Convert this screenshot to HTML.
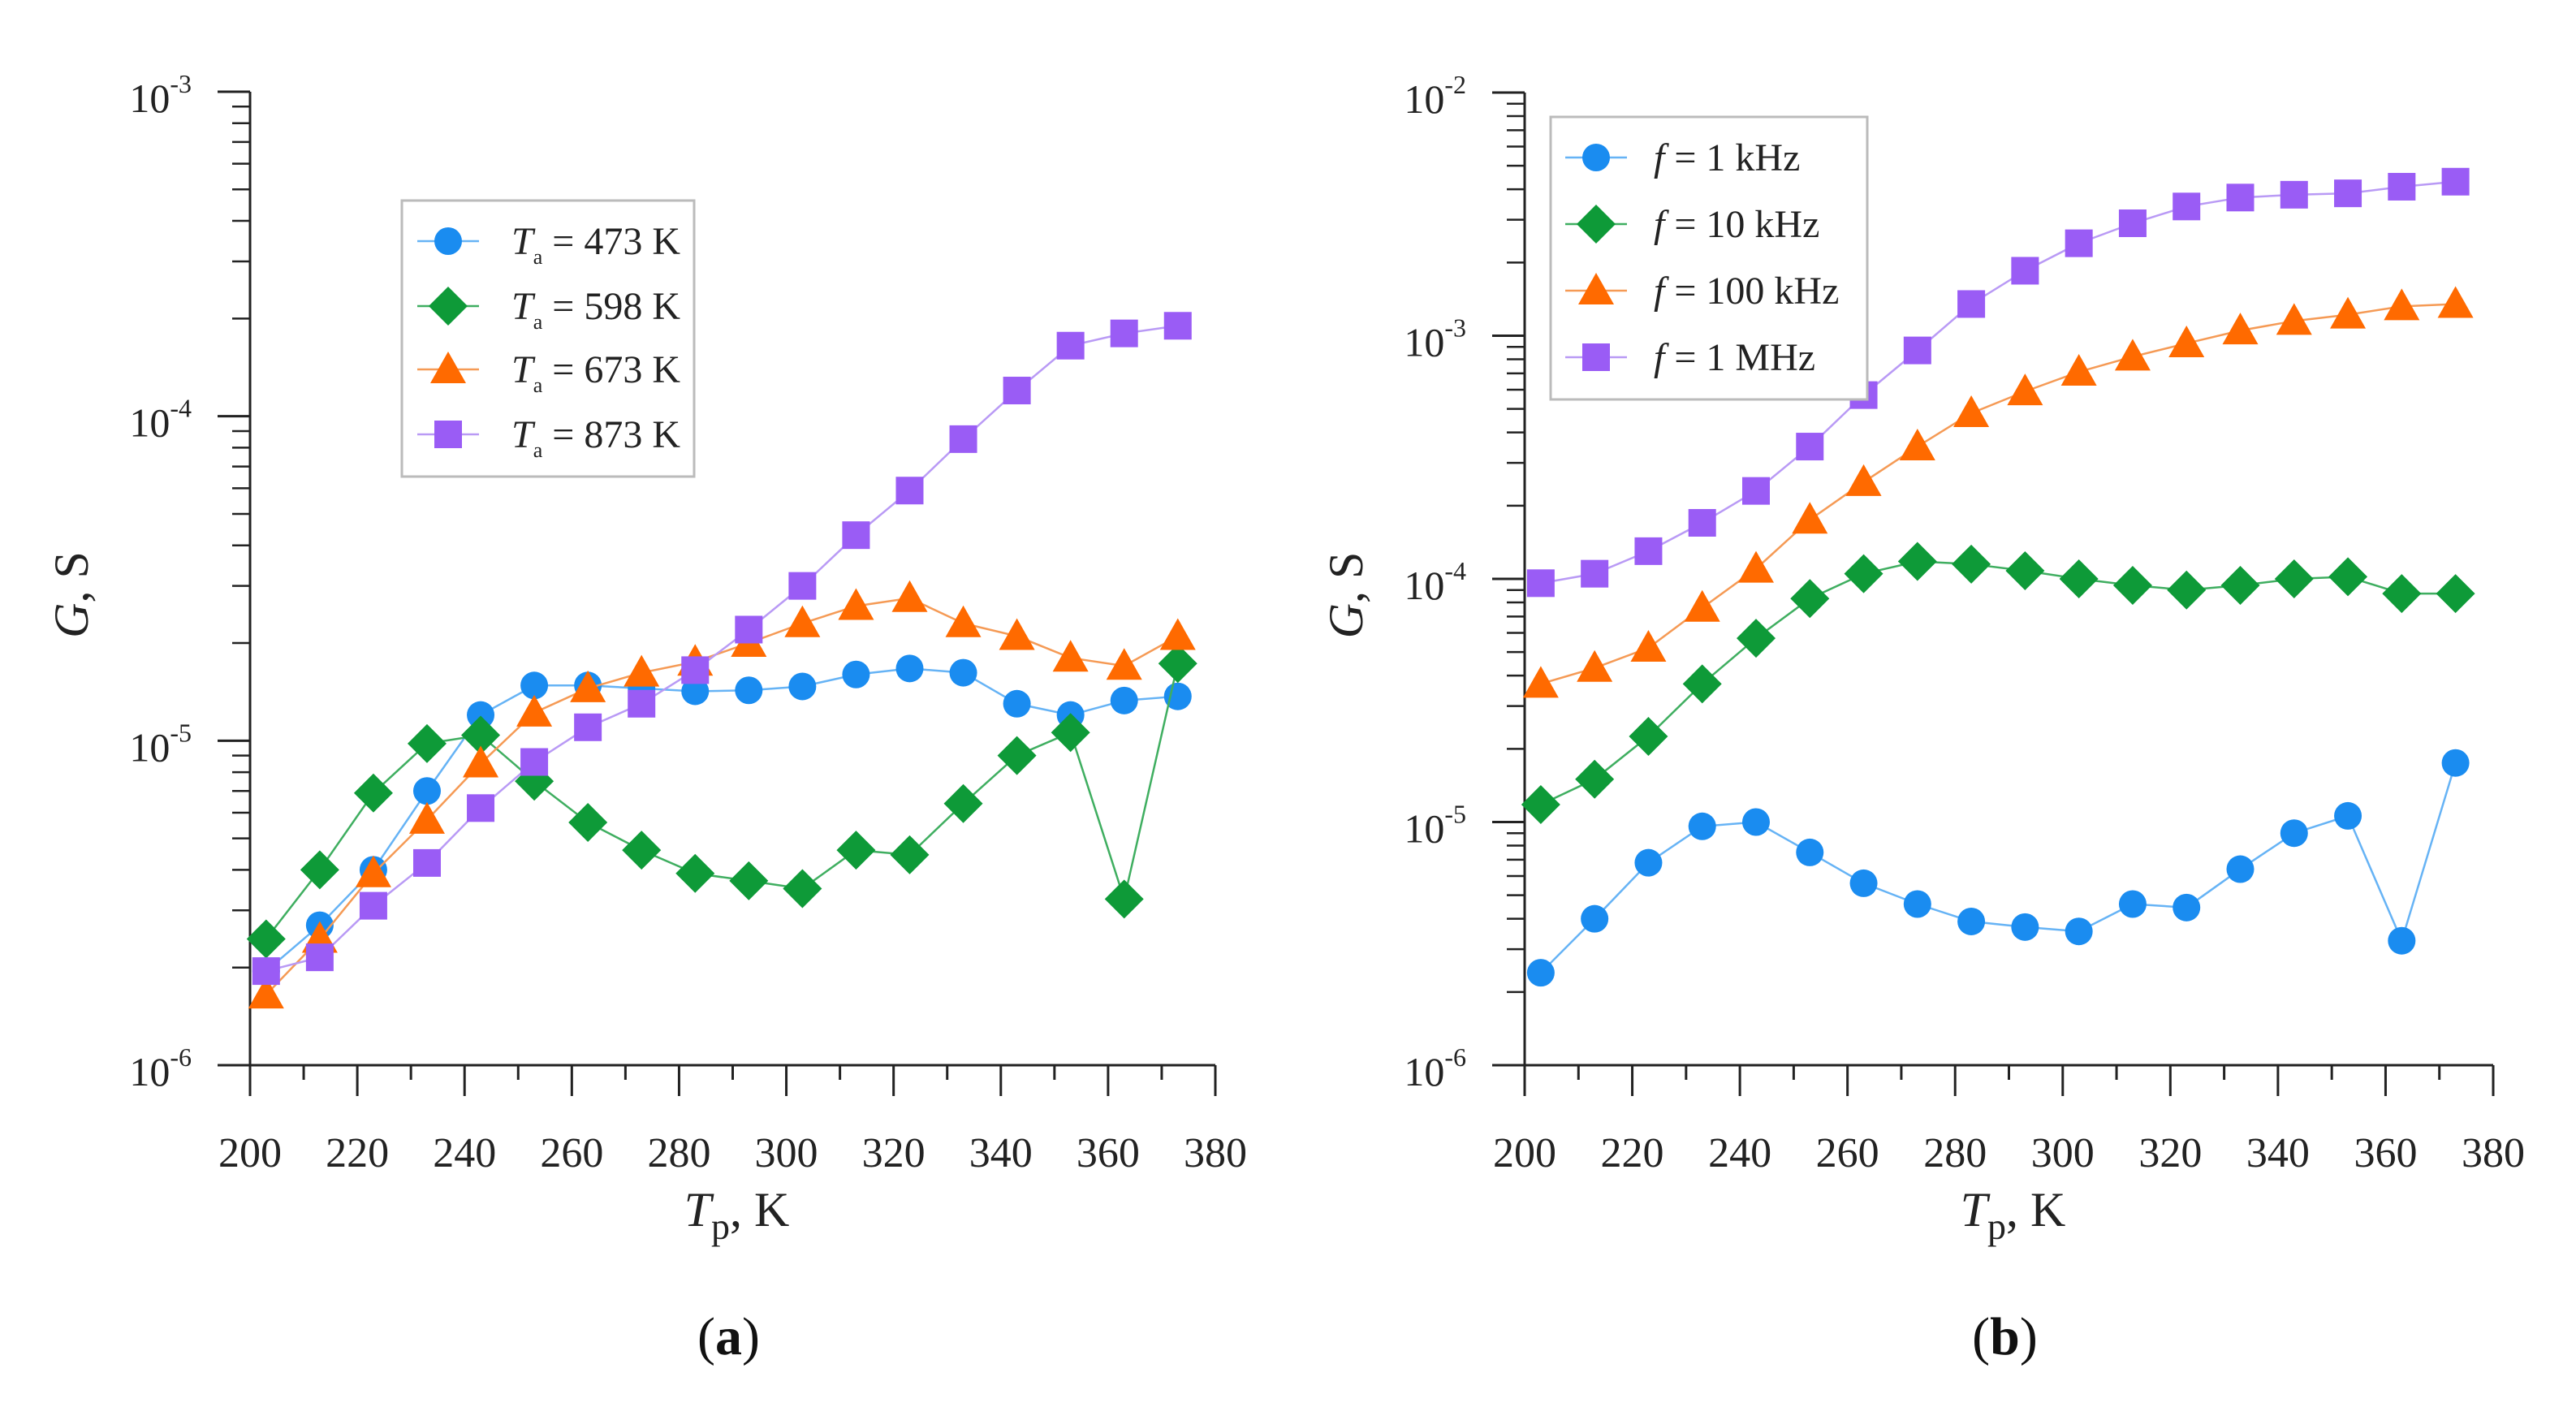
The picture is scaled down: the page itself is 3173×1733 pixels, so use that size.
<!DOCTYPE html>
<html><head><meta charset="utf-8"><style>
html,body{margin:0;padding:0;background:#fff;}
svg{display:block;}
text{font-family:"Liberation Serif","DejaVu Serif",serif;}
</style></head><body>
<svg id="c" width="3173" height="1733" viewBox="0 0 3173 1733" xmlns="http://www.w3.org/2000/svg"></svg>
<script>
const xCats=[203,213,223,233,243,253,263,273,283,293,303,313,323,333,343,353,363,373];
const a473=[1.95e-6,2.7e-6,4.0e-6,7.0e-6,1.2e-5,1.48e-5,1.48e-5,1.45e-5,1.42e-5,1.43e-5,1.47e-5,1.6e-5,1.67e-5,1.62e-5,1.3e-5,1.2e-5,1.33e-5,1.37e-5];
const a598=[2.45e-6,4.0e-6,6.9e-6,9.8e-6,1.04e-5,7.5e-6,5.6e-6,4.6e-6,3.9e-6,3.7e-6,3.5e-6,4.6e-6,4.45e-6,6.4e-6,9.0e-6,1.06e-5,3.25e-6,1.73e-5];
const a673=[1.65e-6,2.45e-6,3.9e-6,5.7e-6,8.5e-6,1.22e-5,1.45e-5,1.62e-5,1.75e-5,2.0e-5,2.3e-5,2.6e-5,2.75e-5,2.3e-5,2.1e-5,1.8e-5,1.7e-5,2.1e-5];
const a873=[1.95e-6,2.15e-6,3.1e-6,4.2e-6,6.2e-6,8.6e-6,1.1e-5,1.3e-5,1.65e-5,2.2e-5,3.0e-5,4.3e-5,5.9e-5,8.5e-5,1.2e-4,1.65e-4,1.8e-4,1.9e-4];
const b1k=[2.4e-6,4.0e-6,6.8e-6,9.6e-6,1.0e-5,7.5e-6,5.6e-6,4.6e-6,3.9e-6,3.7e-6,3.55e-6,4.6e-6,4.45e-6,6.4e-6,9.0e-6,1.06e-5,3.25e-6,1.75e-5];
const b10k=[1.18e-5,1.5e-5,2.25e-5,3.7e-5,5.7e-5,8.3e-5,1.05e-4,1.18e-4,1.15e-4,1.08e-4,1.0e-4,9.4e-5,9.0e-5,9.4e-5,1.0e-4,1.02e-4,8.7e-5,8.7e-5];
const b100k=[3.7e-5,4.3e-5,5.2e-5,7.6e-5,1.1e-4,1.75e-4,2.5e-4,3.5e-4,4.8e-4,5.9e-4,7.1e-4,8.2e-4,9.3e-4,1.05e-3,1.15e-3,1.22e-3,1.32e-3,1.35e-3];
const b1M=[9.6e-5,1.05e-4,1.3e-4,1.7e-4,2.3e-4,3.5e-4,5.7e-4,8.7e-4,1.35e-3,1.85e-3,2.4e-3,2.9e-3,3.4e-3,3.7e-3,3.8e-3,3.85e-3,4.1e-3,4.3e-3];
const xTicks=[200,220,240,260,280,300,320,340,360,380];
const legA=["= 473 K","= 598 K","= 673 K","= 873 K"];
const legB=["= 1 kHz","= 10 kHz","= 100 kHz","= 1 MHz"];

const NS="http://www.w3.org/2000/svg";
const svg=document.getElementById('c');
const FF='"Liberation Serif","DejaVu Serif",serif';
function mk(tag,attrs,parent){const e=document.createElementNS(NS,tag);for(const k in attrs)e.setAttribute(k,attrs[k]);if(tag==='text')e.setAttribute('font-family',FF);(parent||svg).appendChild(e);return e;}
const COL={blue:"#1a8cf0",green:"#0e9a38",orange:"#ff6a00",purple:"#9a5cf5"};
const LINE={blue:"#66b3f5",green:"#3fae60",orange:"#f59a55",purple:"#b99af5"};

function marker(g,shape,cx,cy,col){
  let e;
  if(shape==='circle'){e=mk('circle',{cx:cx,cy:cy,r:17,fill:col},g);}
  else if(shape==='diamond'){e=mk('polygon',{points:`${cx},${cy-24} ${cx+24},${cy} ${cx},${cy+24} ${cx-24},${cy}`,fill:col},g);}
  else if(shape==='triangle'){e=mk('polygon',{points:`${cx},${cy-22} ${cx+22},${cy+17} ${cx-22},${cy+17}`,fill:col},g);}
  else {e=mk('rect',{x:cx-17,y:cy-17,width:34,height:34,fill:col},g);}
  
  
  return e;
}

function chart(id,X0,X1,Ytop,Ybot,decMax,decMin,series,legend,legBox,labelId){
  const g=mk('g',{});
  
  
  const xs=v=>X0+(v-200)/(180)*(X1-X0);
  const ys=v=>Ytop+(decMax-Math.log10(v))/(decMax-decMin)*(Ybot-Ytop);
  const ax=mk('path',{d:`M${X0},${Ytop} V${Ybot} H${X1}`,stroke:"#222",fill:"none","stroke-width":3},g);
  
  
  for(let d=decMin;d<=decMax;d++){
    const y=ys(Math.pow(10,d));
    mk('line',{x1:X0-40,x2:X0,y1:y,y2:y,stroke:"#222","stroke-width":3},g);
    const t=mk('text',{x:X0-72,y:y+25,"font-size":50,"text-anchor":"end",fill:"#222"},g);
    
    
    t.textContent="10";
    const s=mk('tspan',{dy:-24,"font-size":32},t);s.textContent=String(d);
    if(d<decMax){for(let m=2;m<=9;m++){const yy=ys(m*Math.pow(10,d));mk('line',{x1:X0-22,x2:X0,y1:yy,y2:yy,stroke:"#222","stroke-width":2.5},g);}}
  }
  for(let v=200;v<=380;v+=10){
    const x=xs(v);const maj=(v%20===0);
    mk('line',{x1:x,x2:x,y1:Ybot,y2:Ybot+(maj?38:18),stroke:"#222","stroke-width":3},g);
  }
  xTicks.forEach(v=>{
    const t=mk('text',{x:xs(v),y:Ybot+125,"font-size":52,"text-anchor":"middle",fill:"#222"},g);
    
    
    t.textContent=v;
  });
  const xt=mk('text',{x:(X0+X1)/2+5,y:Ybot+198,"font-size":60,"text-anchor":"middle",fill:"#222"},g);
  
  
  xt.innerHTML='<tspan font-style="italic">T</tspan><tspan dy="16" font-size="46">p</tspan><tspan dy="-16">, K</tspan>';
  const yt=mk('text',{x:0,y:0,"font-size":60,"text-anchor":"middle",fill:"#222",transform:`translate(${X0-200},${(Ytop+Ybot)/2+20}) rotate(-90)`},g);
  
  
  yt.innerHTML='<tspan font-style="italic">G</tspan>, S';
  series.forEach(s=>{
    const sg=mk('g',{},g);
    
    
    const pts=xCats.map((c,i)=>xs(c)+","+ys(s.vals[i])).join(" ");
    mk('polyline',{points:pts,fill:"none",stroke:LINE[s.col],"stroke-width":2.5},sg);
    xCats.forEach((c,i)=>marker(sg,s.shape,xs(c),ys(s.vals[i]),COL[s.col]));
  });
  const lg=mk('g',{},g);
  
  
  mk('rect',{x:legBox.x,y:legBox.y,width:legBox.w,height:legBox.h,fill:"#fff",stroke:"#bbb","stroke-width":3},lg);
  series.forEach((s,i)=>{
    const y=legBox.rows[i];
    const eg=mk('g',{},lg);
    
    
    mk('line',{x1:legBox.mx-38,x2:legBox.mx+38,y1:y,y2:y,stroke:LINE[s.col],"stroke-width":2.5},eg);
    marker(eg,s.shape,legBox.mx,y,COL[s.col]);
    const t=mk('text',{x:legBox.tx,y:y+16,"font-size":48,fill:"#222"},eg);
    if(legBox.kind==='a'){t.innerHTML='<tspan font-style="italic">T</tspan><tspan dy="12" font-size="26">a</tspan><tspan dy="-12"> '+legend[i]+'</tspan>';}
    else{t.innerHTML='<tspan font-style="italic">f</tspan> '+legend[i];}
  });
  const lab=mk('text',{x:(X0+X1)/2-5,y:1668,"font-size":66,"text-anchor":"middle",fill:"#111"});
  
  
  lab.innerHTML='(<tspan font-weight="bold">'+labelId+'</tspan>)';
}

chart('chart-a',308,1497,113,1312,-3,-6,[
  {name:'473K',vals:a473,col:'blue',shape:'circle'},
  {name:'598K',vals:a598,col:'green',shape:'diamond'},
  {name:'673K',vals:a673,col:'orange',shape:'triangle'},
  {name:'873K',vals:a873,col:'purple',shape:'square'}],legA,
  {x:495,y:247,w:360,h:340,rows:[297,377,455,535],mx:552,tx:630,kind:'a'},'a');
chart('chart-b',1878,3071,114,1312,-2,-6,[
  {name:'1kHz',vals:b1k,col:'blue',shape:'circle'},
  {name:'10kHz',vals:b10k,col:'green',shape:'diamond'},
  {name:'100kHz',vals:b100k,col:'orange',shape:'triangle'},
  {name:'1MHz',vals:b1M,col:'purple',shape:'square'}],legB,
  {x:1910,y:144,w:390,h:348,rows:[194,276,358,440],mx:1966,tx:2037,kind:'b'},'b');
</script>
</body></html>
